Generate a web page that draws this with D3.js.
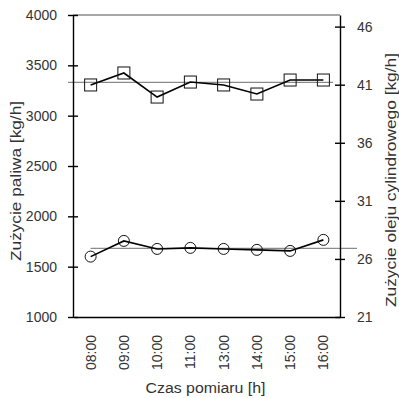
<!doctype html>
<html lang="pl">
<head>
  <meta charset="UTF-8">
  <title>Zużycie paliwa i oleju</title>
<style>
  body{ margin: 0; background: #fff; }
  text{ font-family: "Liberation Sans", Arial, sans-serif; fill: #333; }
  .axis path, .axis line{ stroke: #000; stroke-width: 1.4px; }
  .axis text{ font-size: 14px; }
  .title{ font-size: 15.5px; }
  .series{ fill: none; stroke: #000; stroke-width: 1.6px; }
  .marker{ fill: none; stroke: #111; stroke-width: 1px; }
  .ref{ stroke: #8a8a8a; stroke-width: 1.2px; }
</style>
</head>
<body>
<script src="https://d3js.org/d3.v7.min.js"></script>
<script>
var times = ["08:00", "09:00", "10:00", "11:00", "13:00", "14:00", "15:00", "16:00"];
var fuel = [3305, 3424, 3185, 3334, 3305, 3215, 3354, 3354];
var oil = [26.2, 27.55, 26.86, 26.95, 26.86, 26.78, 26.69, 27.64];
var fuelRef = 3330;
var oilRef = 26.9;
var fuelTicks = [1000, 1500, 2000, 2500, 3000, 3500, 4000];
var oilTicks = [21, 26, 31, 36, 41, 46];

var margin = {top: 15, right: 59, bottom: 81, left: 73},
    width = 399 - margin.left - margin.right,
    height = 398 - margin.top - margin.bottom;

var svg = d3.select("body").append("svg")
    .attr("width", 399)
    .attr("height", 398)
  .append("g")
    .attr("transform", "translate(" + margin.left + "," + margin.top + ")");

var x = d3.scaleBand().domain(times).range([1, width]);
var yL = d3.scaleLinear().domain([1000, 4000]).range([height, 0]);
var yR = d3.scaleLinear().domain([21, 47]).range([height, 0]);
var cx = function(d, i){ return x(times[i]) + x.bandwidth() / 2; };

// top frame line
svg.append("line")
    .attr("x1", 0).attr("x2", width)
    .attr("y1", 0).attr("y2", 0)
    .attr("stroke", "#8a8a8a").attr("stroke-width", 1.4);

// reference lines
svg.append("line").attr("class", "ref")
    .attr("x1", -5).attr("x2", width - 7)
    .attr("y1", yL(fuelRef)).attr("y2", yL(fuelRef));
svg.append("line").attr("class", "ref")
    .attr("x1", cx(null, 0)).attr("x2", width + 17)
    .attr("y1", yR(oilRef)).attr("y2", yR(oilRef));

var gL = svg.append("g").attr("class", "axis")
    .call(d3.axisLeft(yL).tickValues(fuelTicks).tickSize(5).tickSizeOuter(0).tickPadding(11).tickFormat(d3.format("d")));
gL.selectAll(".tick line").attr("x1", 5).attr("x2", -5);

var gR = svg.append("g").attr("class", "axis")
    .attr("transform", "translate(" + width + ",0)")
    .call(d3.axisRight(yR).tickValues(oilTicks).tickSize(5).tickSizeOuter(0).tickPadding(12));
gR.selectAll(".tick line").attr("x1", -5).attr("x2", 5);

var gB = svg.append("g").attr("class", "axis")
    .attr("transform", "translate(0," + height + ")")
    .call(d3.axisBottom(x).tickSize(0).tickSizeOuter(0));
gB.selectAll("text")
    .attr("transform", "rotate(-90)")
    .attr("text-anchor", "end")
    .attr("dx", "-18px")
    .attr("dy", "0.35em")
    .attr("x", 0).attr("y", 0);
gB.selectAll(".tick").attr("transform", function(d){ return "translate(" + (x(d) + x.bandwidth() / 2) + ",0)"; });

// series
var lineL = d3.line().x(cx).y(function(d){ return yL(d); });
var lineR = d3.line().x(cx).y(function(d){ return yR(d); });

svg.append("path").datum(fuel).attr("class", "series").attr("d", lineL);
svg.append("path").datum(oil).attr("class", "series").attr("d", lineR);

svg.selectAll(".sq").data(fuel).enter().append("rect")
    .attr("class", "marker")
    .attr("x", function(d, i){ return cx(d, i) - 6; })
    .attr("y", function(d){ return yL(d) - 6; })
    .attr("width", 12).attr("height", 12);

svg.selectAll(".ci").data(oil).enter().append("circle")
    .attr("class", "marker")
    .attr("cx", cx)
    .attr("cy", function(d){ return yR(d); })
    .attr("r", 5.5);

// titles
svg.append("text").attr("class", "title")
    .attr("x", width / 2 - 1).attr("y", height + 76)
    .attr("text-anchor", "middle")
    .attr("textLength", 120).attr("lengthAdjust", "spacingAndGlyphs")
    .text("Czas pomiaru [h]");

svg.append("text").attr("class", "title")
    .attr("transform", "translate(" + (-52) + "," + 166 + ") rotate(-90)")
    .attr("text-anchor", "middle")
    .attr("textLength", 160).attr("lengthAdjust", "spacingAndGlyphs")
    .text("Zużycie paliwa [kg/h]");

svg.append("text").attr("class", "title")
    .attr("transform", "translate(" + (width + 56) + "," + 165 + ") rotate(-90)")
    .attr("text-anchor", "middle")
    .attr("textLength", 254).attr("lengthAdjust", "spacingAndGlyphs")
    .text("Zużycie oleju cylindrowego [kg/h]");
</script>
</body>
</html>
